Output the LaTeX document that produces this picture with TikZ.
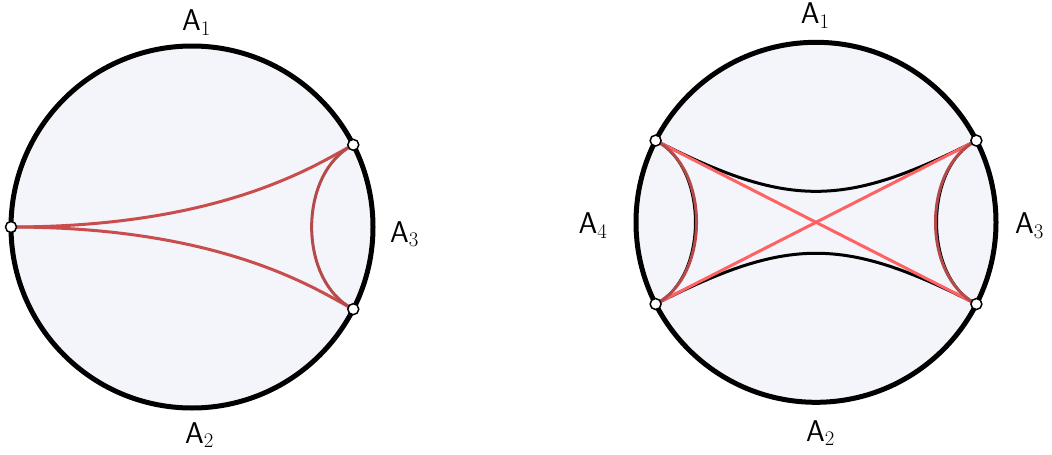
\documentclass[tikz,border=0pt]{standalone}
\usetikzlibrary{calc}
\definecolor{diskfill}{HTML}{F4F5FB}
\definecolor{geored}{HTML}{C94D4D}
\definecolor{arcred}{HTML}{B54A4A}
\definecolor{diagred}{HTML}{FF6262}
\begin{document}
\begin{tikzpicture}[x=1pt,y=-1pt,
  disk/.style={draw=black,line width=5pt,fill=diskfill},
  marker/.style={circle,draw=black,fill=white,line width=1.5pt,inner sep=0pt,minimum size=11pt},
  lbl/.style={font=\fontsize{30}{36}\selectfont,anchor=base west,inner sep=0pt},
  geo/.style={draw=geored,line width=3pt},
  sidearc/.style={draw=arcred,line width=3pt},
  underarc/.style={draw=black,line width=2.2pt},
  blackgeo/.style={draw=black,line width=3pt},
  diag/.style={draw=diagred,line width=3pt}]
\useasboundingbox (0,0) rectangle (1052,455);
% ---------- left disk ----------
\coordinate (C1) at (192,227);
\draw[disk] (C1) circle[radius=181];
\coordinate (L0) at ($(C1)+(180:181)$);
\coordinate (LU) at ($(C1)+(-27:181)$);
\coordinate (LD) at ($(C1)+(27:181)$);
\draw[geo] (L0) .. controls ($(C1)+(36,0)$) and ($(C1)!0.8!(LU)$) .. (LU);
\draw[geo] (L0) .. controls ($(C1)+(36,0)$) and ($(C1)!0.8!(LD)$) .. (LD);
\draw[sidearc] (LU) .. controls ($(C1)!0.656!(LU)$) and ($(C1)!0.656!(LD)$) .. (LD);
\node[marker] (mL0) at (L0) {};
\node[marker] (mLU) at (LU) {};
\node[marker] (mLD) at (LD) {};
\node[lbl] (la1) at (182,30.7) {\textsf{A}$_1$};
\node[lbl] (la2) at (185,443) {\textsf{A}$_2$};
\node[lbl] (la3) at (390,242) {\textsf{A}$_3$};
% ---------- right disk ----------
\coordinate (C2) at (816,222.3);
\draw[disk] (C2) circle[radius=180];
\coordinate (RTR) at ($(C2)+(-27:180)$);
\coordinate (RBR) at ($(C2)+(27:180)$);
\coordinate (RTL) at ($(C2)+(207:180)$);
\coordinate (RBL) at ($(C2)+(153:180)$);
\draw[blackgeo] (RTL) .. controls ($(C2)!0.172!(RTL)$) and ($(C2)!0.172!(RTR)$) .. (RTR);
\draw[blackgeo] (RBL) .. controls ($(C2)!0.172!(RBL)$) and ($(C2)!0.172!(RBR)$) .. (RBR);
\draw[diag] (RTL) -- (RBR);
\draw[diag] (RBL) -- (RTR);
\draw[underarc] (RTL) .. controls ($(C2)!0.672!(RTL)$) and ($(C2)!0.672!(RBL)$) .. (RBL);
\draw[underarc] (RTR) .. controls ($(C2)!0.672!(RTR)$) and ($(C2)!0.672!(RBR)$) .. (RBR);
\draw[sidearc] (RTL) .. controls ($(C2)!0.66!(RTL)$) and ($(C2)!0.66!(RBL)$) .. (RBL);
\draw[sidearc] (RTR) .. controls ($(C2)!0.66!(RTR)$) and ($(C2)!0.66!(RBR)$) .. (RBR);
\node[marker] (mRTR) at (RTR) {};
\node[marker] (mRBR) at (RBR) {};
\node[marker] (mRTL) at (RTL) {};
\node[marker] (mRBL) at (RBL) {};
\node[lbl] (ra1) at (800.7,23.3) {\textsf{A}$_1$};
\node[lbl] (ra2) at (806,441) {\textsf{A}$_2$};
\node[lbl] (ra3) at (1015,233.3) {\textsf{A}$_3$};
\node[lbl] (ra4) at (578.3,233.3) {\textsf{A}$_4$};
\end{tikzpicture}
\end{document}
